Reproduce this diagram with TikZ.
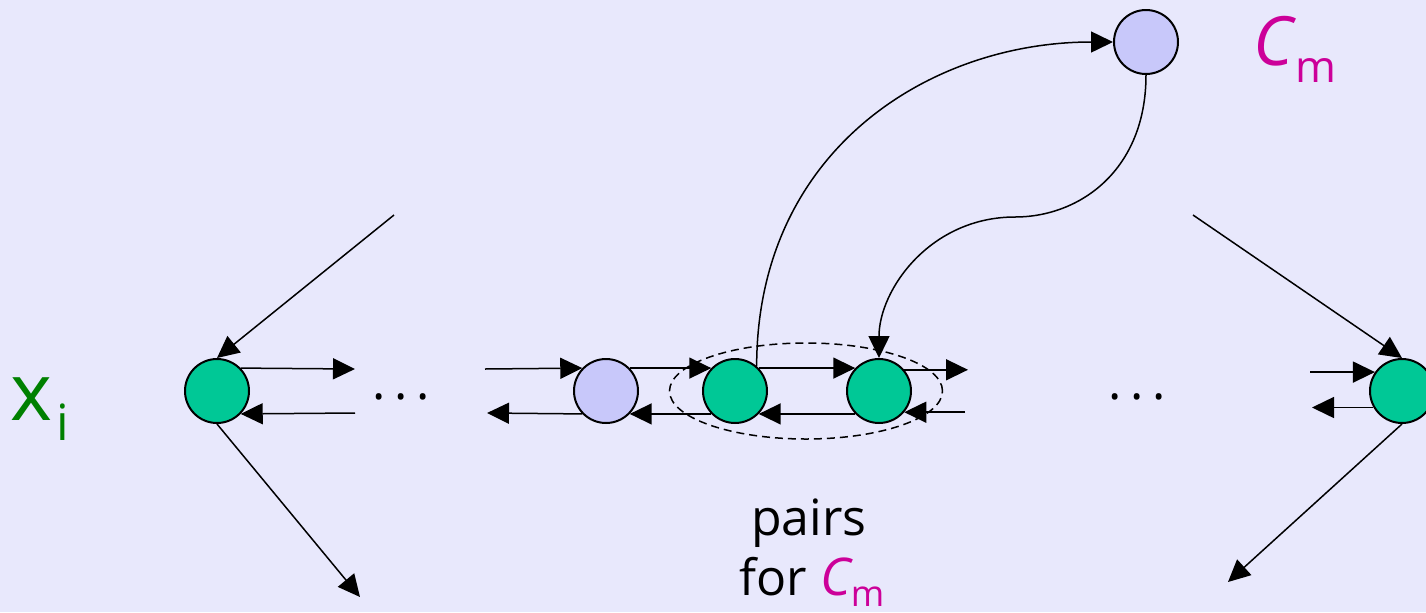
\documentclass[tikz,border=0pt]{standalone}
\usepackage{fontspec}
\setmainfont{Open Sans}
\usetikzlibrary{arrows.meta,shapes.geometric}
\definecolor{bg}{RGB}{232,232,252}
\definecolor{grn}{RGB}{0,200,150}
\definecolor{lav}{RGB}{200,200,250}
\definecolor{mag}{RGB}{204,0,153}
\definecolor{lblgreen}{RGB}{0,128,0}
\newcommand{\mydots}{.\kern4.3pt.\kern4.3pt.}
\begin{document}
\begin{tikzpicture}[x=0.5pt,y=-0.5pt,
  vtx/.style={circle,draw=black,line width=1pt,inner sep=0pt,minimum size=32pt},
  gnode/.style={vtx,fill=grn},
  lnode/.style={vtx,fill=lav},
  conn/.style={line width=0.75pt,-{Triangle[length=11pt,width=10.5pt]}},
  dotsty/.style={anchor=base,inner sep=0pt,font=\fontsize{25}{25}\selectfont},
  ]
\fill[bg] (0,0) rectangle (1426,612);
\useasboundingbox (0,0) rectangle (1426,612);

% free ends
\coordinate (aIn) at (394,215);
\coordinate (aOut) at (360,597);
\coordinate (aR1) at (355,369);
\coordinate (aR2) at (355,413);
\coordinate (bL1) at (485,369);
\coordinate (bL2) at (487,413);
\coordinate (dR1) at (968,370);
\coordinate (dR2) at (965,410);
\coordinate (eL1) at (1310,367);
\coordinate (eL2) at (1312,410);
\coordinate (eIn) at (1193,215);
\coordinate (eOut) at (1228,582);
\coordinate (mid) at (1015,217);

% nodes
\node[gnode] (A) at (217,391) {};
\node[lnode] (B) at (606,391) {};
\node[gnode] (C) at (735,391) {};
\node[gnode] (D) at (879,391) {};
\node[gnode] (E) at (1402,391) {};
\node[lnode] (F) at (1146,42) {};

% connectors
\draw[conn] (aIn) -- (A.north);
\draw[conn] (A.south) -- (aOut);
\draw[conn] (A.44) -- (aR1);
\draw[conn] (aR2) -- (A.-44);
\draw[conn] (bL1) -- (B.136);
\draw[conn] (B.-136) -- (bL2);
\draw[conn] (B.44) -- (C.136);
\draw[conn] (C.-136) -- (B.-44);
\draw[conn] (C.44) -- (D.136);
\draw[conn] (D.-136) -- (C.-44);
\draw[conn] (D.40) -- (D.40 -| dR1);
\draw[conn] (D.-40 -| dR2) -- (D.-40);
\draw[conn] (E.145 -| eL1) -- (E.145);
\draw[conn] (E.-150) -- (E.-150 -| eL2);
\draw[conn] (eIn) -- (E.north);
\draw[conn] (E.south) -- (eOut);
\draw[conn] (C.49) .. controls (757,150) and (930,42) .. (F.west);
\draw[conn] (F.south) .. controls (1146,170) and (1080,217) .. (mid)
  .. controls (930,217) and (879,290) .. (D.north);

% dashed ellipse around the pair
\node[draw,dashed,ellipse,line width=0.75pt,dash pattern=on 4pt off 2.5pt,
  inner sep=0pt,minimum width=136.5pt,minimum height=48pt] (pair) at (806,391) {};

% dots
\node[dotsty] (dots1) at (401,399) {\mydots};
\node[dotsty] (dots2) at (1137,399) {\mydots};

% labels
\node[anchor=base west,inner sep=0pt,text=lblgreen] (xi) at (10,420)
  {\fontsize{40}{40}\selectfont x\kern2pt\raisebox{-10pt}{\fontsize{25}{25}\selectfont i}};
\node[anchor=base west,inner sep=0pt,text=mag] (cm) at (1253,65)
  {\fontsize{34}{34}\selectfont\itshape C\kern1pt\raisebox{-8.5pt}{\upshape\fontsize{22}{22}\selectfont m}};
\node[anchor=base,inner sep=0pt,font=\fontsize{25}{25}\selectfont] (pl1) at (809,535) {pairs};
\node[anchor=base,inner sep=0pt,font=\fontsize{25}{25}\selectfont] (pl2) at (812,595)
  {for {\color{mag}\fontsize{26}{26}\selectfont\itshape C\raisebox{-5.5pt}{\upshape\fontsize{18}{18}\selectfont m}}};
\end{tikzpicture}
\end{document}
